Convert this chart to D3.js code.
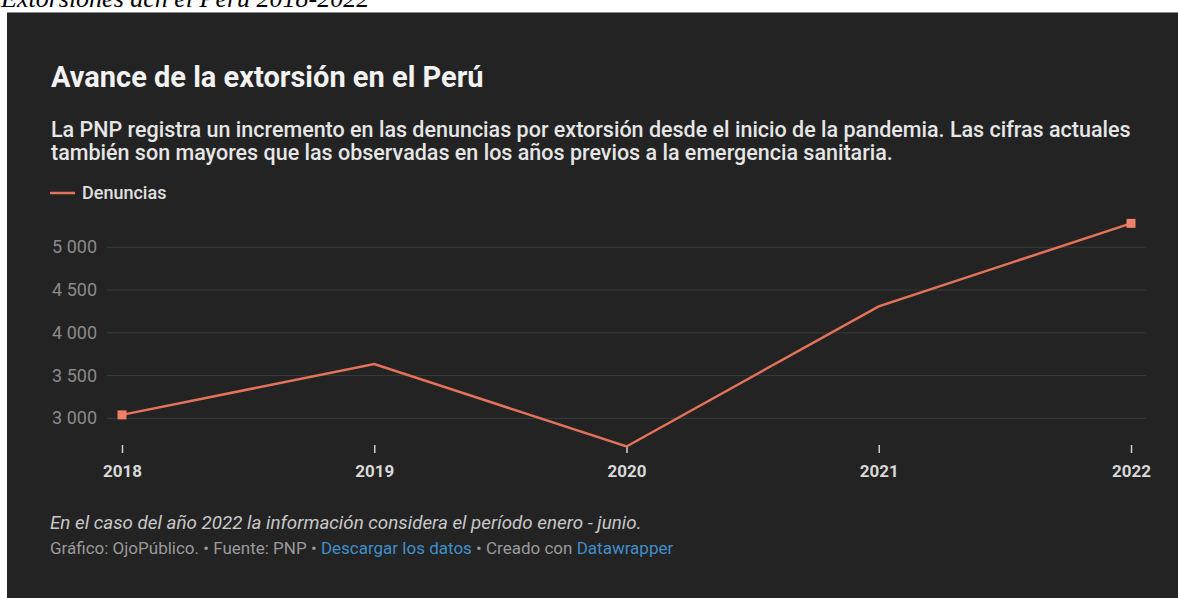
<!DOCTYPE html>
<html>
<head>
<meta charset="utf-8">
<script src="https://cdn.jsdelivr.net/npm/d3@7"></script>
<style>
  body { margin: 0; background: #fff; }
  svg { display: block; }
</style>
</head>
<body>
<div class="line-chart"></div>
<script>
const years = ['2018', '2019', '2020', '2021', '2022'];
const denuncias = [3040, 3635, 2670, 4310, 5280];
const yTicks = [3000, 3500, 4000, 4500, 5000];
const seriesName = 'Denuncias';

const W = 1178, H = 598;
const fmt = d => d3.format(',')(d).replace(',', ' ');

const svg = d3.select('.line-chart')
  .append('svg')
  .attr('width', W)
  .attr('height', H);

// caption above the panel (cut off at top)
svg.append('text')
  .attr('x', 1)
  .attr('y', 7)
  .attr('font-family', 'Liberation Serif, serif')
  .attr('font-style', 'italic')
  .attr('font-size', 26)
  .attr('fill', '#000')
  .text('Extorsiones ach el Perú 2018-2022');

// dark panel
svg.append('rect')
  .attr('x', 7).attr('y', 12)
  .attr('width', W - 7).attr('height', H - 12)
  .attr('fill', '#232323');
svg.append('line')
  .attr('x1', 7).attr('x2', W).attr('y1', 12.5).attr('y2', 12.5)
  .attr('stroke', '#8a8a8a').attr('stroke-width', 1);

const font = 'Roboto, sans-serif';

// title and description
svg.append('text')
  .attr('x', 51).attr('y', 87)
  .attr('font-family', font).attr('font-weight', 700)
  .attr('font-size', 29).attr('fill', '#f2f2f2')
  .text('Avance de la extorsión en el Perú');

const desc = [
  'La PNP registra un incremento en las denuncias por extorsión desde el inicio de la pandemia. Las cifras actuales',
  'también son mayores que las observadas en los años previos a la emergencia sanitaria.'
];
svg.selectAll('.desc')
  .data(desc)
  .enter()
  .append('text')
  .attr('x', 51)
  .attr('y', (d, i) => 137 + i * 23)
  .attr('font-family', font).attr('font-weight', 500)
  .attr('font-size', 21.5).attr('fill', '#e6e6e6')
  .text(d => d);

// legend
svg.append('line')
  .attr('x1', 50).attr('x2', 75).attr('y1', 193).attr('y2', 193)
  .attr('stroke', '#e5735a').attr('stroke-width', 2.5);
svg.append('text')
  .attr('x', 82).attr('y', 199)
  .attr('font-family', font).attr('font-weight', 500)
  .attr('font-size', 18).attr('fill', '#e0e0e0')
  .text(seriesName);

// scales
const x = d3.scalePoint().domain(years).range([122, 1131]);
const y = d3.scaleLinear().domain([3000, 5000]).range([418.3, 247.3]);

// grid + y labels
svg.selectAll('.grid')
  .data(yTicks)
  .enter()
  .append('line')
  .attr('x1', 107).attr('x2', 1146)
  .attr('y1', d => y(d)).attr('y2', d => y(d))
  .attr('stroke', '#3a3a3a').attr('stroke-width', 1);

svg.selectAll('.ylab')
  .data(yTicks)
  .enter()
  .append('text')
  .attr('x', 97)
  .attr('y', d => y(d) + 6)
  .attr('text-anchor', 'end')
  .attr('font-family', font)
  .attr('font-size', 18).attr('fill', '#8a8a8a')
  .text(fmt);

// x axis
const xAxis = svg.append('g')
  .attr('transform', 'translate(0,445)')
  .call(d3.axisBottom(x).tickSize(8).tickPadding(12));
xAxis.select('.domain').remove();
xAxis.selectAll('.tick line')
  .attr('stroke', '#cfcfcf').attr('stroke-width', 1.5);
xAxis.selectAll('.tick text')
  .attr('font-family', font).attr('font-weight', 700)
  .attr('font-size', 17).attr('fill', '#d8d8d8');

// line
const pts = years.map((yr, i) => ({ year: yr, value: denuncias[i] }));
svg.append('path')
  .datum(pts)
  .attr('fill', 'none')
  .attr('stroke', '#e5735a')
  .attr('stroke-width', 2.5)
  .attr('d', d3.line().x(d => x(d.year)).y(d => y(d.value)));

// end markers
svg.selectAll('.marker')
  .data([pts[0], pts[pts.length - 1]])
  .enter()
  .append('rect')
  .attr('x', d => x(d.year) - 4.5)
  .attr('y', d => y(d.value) - 4.5)
  .attr('width', 9).attr('height', 9)
  .attr('fill', '#f08066');

// notes
svg.append('text')
  .attr('x', 50).attr('y', 529)
  .attr('font-family', font).attr('font-style', 'italic')
  .attr('font-size', 18.8).attr('fill', '#c8c8c8')
  .text('En el caso del año 2022 la información considera el período enero - junio.');

const src = svg.append('text')
  .attr('x', 50).attr('y', 554)
  .attr('font-family', font)
  .attr('font-size', 17).attr('fill', '#9a9a9a');
src.append('tspan').text('Gráfico: OjoPúblico. • Fuente: PNP • ');
src.append('tspan').attr('fill', '#3f8fcb').text('Descargar los datos');
src.append('tspan').text(' • Creado con ');
src.append('tspan').attr('fill', '#3f8fcb').text('Datawrapper');
</script>
</body>
</html>
